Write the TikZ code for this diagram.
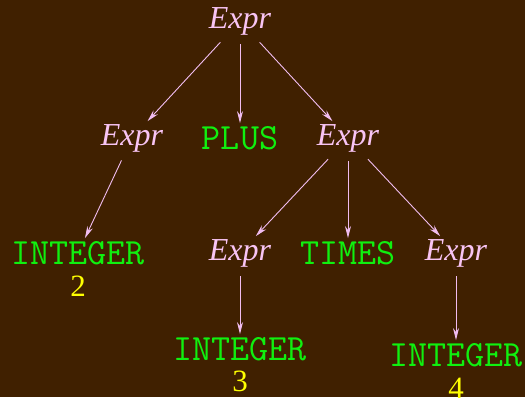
\documentclass[tikz,border=0pt]{standalone}
\usepackage{fontspec}
\setmainfont{Liberation Serif}
\usetikzlibrary{arrows.meta}
\definecolor{bgbrown}{HTML}{402000}
\definecolor{ntpink}{HTML}{F8C4F4}
\definecolor{edgepink}{HTML}{F0BCF0}
\definecolor{tokgreen}{HTML}{10F010}
\definecolor{valyellow}{HTML}{FFFF00}
\tikzset{
  nonterm/.style={text=ntpink, font=\fontsize{32}{32}\selectfont\itshape, inner sep=2pt},
  token/.style={text=tokgreen, font=\ttfamily\fontsize{37}{37}\selectfont, inner sep=2pt},
  value/.style={text=valyellow, font=\fontsize{31}{31}\selectfont, inner sep=1pt},
  edge/.style={draw=edgepink, line width=0.9pt, -{Stealth[length=12pt,width=6pt]}, shorten >=1pt, shorten <=7pt}
}
\begin{document}
\begin{tikzpicture}[x=1pt,y=1pt]
  \fill[bgbrown] (0,0) rectangle (525,397);
  \useasboundingbox (0,0) rectangle (525,397);

  % root
  \node[nonterm] (e0) at (240,376) {Expr};
  % second level
  \node[nonterm] (e1) at (132,259) {Expr};
  \node[token]   (plus) at (240,259) {PLUS};
  \node[nonterm] (e2) at (348,259) {Expr};
  % third level
  \node[token]   (int1) at (78,144) {INTEGER};
  \node[value]   (v2) at (78,111) {2};
  \node[nonterm] (e3) at (240,144) {Expr};
  \node[token]   (times) at (348,144) {TIMES};
  \node[nonterm] (e4) at (456,144) {Expr};
  % leaves
  \node[token]   (int2) at (240,48) {INTEGER};
  \node[value]   (v3) at (240,16) {3};
  \node[token]   (int3) at (456,42) {INTEGER};
  \node[value]   (v4) at (456,9) {4};

  \draw[edge] (e0) -- (e1);
  \draw[edge] (e0) -- (plus);
  \draw[edge] (e0) -- (e2);
  \draw[edge] (e1) -- (int1);
  \draw[edge] (e2) -- (e3);
  \draw[edge] (e2) -- (times);
  \draw[edge] (e2) -- (e4);
  \draw[edge] (e3) -- (int2);
  \draw[edge] (e4) -- (int3);
\end{tikzpicture}
\end{document}
